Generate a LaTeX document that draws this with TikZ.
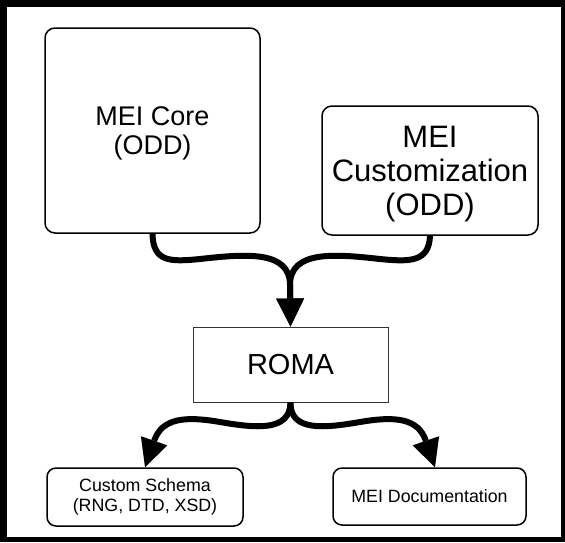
\documentclass[tikz,border=0pt]{standalone}
\usepackage{fontspec}
\setmainfont{Liberation Sans}
\usetikzlibrary{arrows.meta}
\newcommand\droptext[2]{\raisebox{#1}[\height][\depth]{\begin{tabular}{@{}c@{}}#2\end{tabular}}}
\begin{document}
\begin{tikzpicture}[x=1pt,y=-1pt,
  box/.style={draw=black,line width=1.5pt,rounded corners=10pt,align=center,inner sep=0pt,fill=white},
  plainbox/.style={draw=black!80,line width=1pt,align=center,inner sep=0pt,fill=white},
  flow/.style={line width=6pt,-{Triangle[length=28pt,width=28pt,line width=0pt]}},
  bigtext/.style={font=\fontsize{27}{29}\selectfont},
  largetext/.style={font=\fontsize{31}{34}\selectfont},
  smalltext/.style={font=\fontsize{17.8}{20}\selectfont}]
\useasboundingbox (0,0) rectangle (565,542);
\fill[black] (0,0) rectangle (565,542);
\fill[white] (7,7) rectangle (561,537);
\node[box,bigtext,minimum width=215pt,minimum height=205pt] (core) at (152.5,130.5) {\droptext{-4pt}{MEI Core\\(ODD)}};
\node[box,largetext,minimum width=216pt,minimum height=129pt] (cust) at (430,170.5) {\droptext{-4pt}{MEI\\Customization\\(ODD)}};
\node[plainbox,font=\fontsize{29}{34}\selectfont,minimum width=195pt,minimum height=75pt] (roma) at (290.5,364.5) {ROMA};
\node[box,smalltext,rounded corners=9pt,minimum width=196pt,minimum height=58pt] (schema) at (145,497) {Custom Schema\\(RNG, DTD, XSD)};
\node[box,smalltext,rounded corners=9pt,minimum width=193pt,minimum height=57pt] (doc) at (429.5,496.5) {MEI Documentation};
\draw[flow] (core.south) .. controls (153,262) and (170,262) .. (200,259) .. controls (245,254) and (290,250) .. (290,285) -- (roma.north);
\draw[flow] (cust.south) .. controls (429,262) and (410,262) .. (380,259) .. controls (335,254) and (290,250) .. (290,285) -- (roma.north);
\draw[flow] (roma.south) .. controls (290,432) and (255,428) .. (220,422) .. controls (185,416) and (162,418) .. (schema.north);
\draw[flow] (roma.south) .. controls (290,432) and (325,428) .. (360,422) .. controls (395,416) and (418,418) .. ([xshift=5.5pt]doc.north);
\end{tikzpicture}
\end{document}
